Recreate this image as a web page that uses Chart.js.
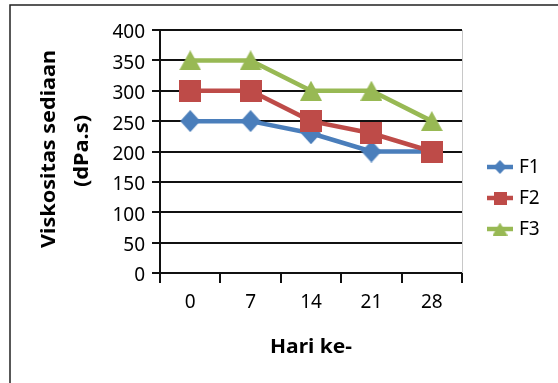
<!DOCTYPE html>
<html>
<head>
<meta charset="utf-8">
<script src="https://cdn.jsdelivr.net/npm/chart.js@4/dist/chart.umd.min.js"></script>
<style>
  html, body { margin: 0; padding: 0; background: #fff; }
  canvas { display: block; }
</style>
</head>
<body>
<canvas id="viscChart" width="558" height="383"></canvas>
<script>
// hari pengamatan dan viskositas tiap formula (dPa.s)
const days = ['0', '7', '14', '21', '28'];
const seriesNames = ['F1', 'F2', 'F3'];
const f1 = [250, 250, 230, 200, 200];
const f2 = [300, 300, 250, 230, 200];
const f3 = [350, 350, 300, 300, 250];
const yMax = 400;
const yStep = 50;

const colors = ['#4A7EBB', '#BE4B48', '#98B954'];
const FONT = '"Noto Sans", "Open Sans", sans-serif';

// marker images, drawn once on small canvases
function makeMarker(shape, w, h, fill) {
    const c = document.createElement('canvas');
    c.width = w;
    c.height = h;
    const g = c.getContext('2d');
    g.fillStyle = fill;
    g.beginPath();
    if (shape === 'diamond') {
        g.moveTo(w / 2, 0);
        g.lineTo(w, h / 2);
        g.lineTo(w / 2, h);
        g.lineTo(0, h / 2);
    } else if (shape === 'triangle') {
        g.moveTo(w / 2, 0);
        g.lineTo(w, h);
        g.lineTo(0, h);
    } else {
        g.rect(0, 0, w, h);
    }
    g.closePath();
    g.fill();
    return c;
}

const markers = [
    makeMarker('diamond', 20, 22, colors[0]),
    makeMarker('square', 22, 22, colors[1]),
    makeMarker('triangle', 22, 20, colors[2])
];
const legendMarkers = [
    makeMarker('diamond', 13, 14, colors[0]),
    makeMarker('square', 13, 13, colors[1]),
    makeMarker('triangle', 15, 13, colors[2])
];

// text stretched along its own direction to a given width
function fitText(ctx, text, cx, cy, width, angle) {
    const w = ctx.measureText(text).width;
    ctx.save();
    ctx.translate(cx, cy);
    ctx.rotate(angle);
    ctx.scale(width / w, 1);
    ctx.fillText(text, 0, 0);
    ctx.restore();
}

const frameAndText = {
    id: 'frameAndText',
    beforeDraw(chart) {
        const ctx = chart.ctx;
        ctx.save();
        // outer frame (top + left)
        ctx.strokeStyle = '#222';
        ctx.lineWidth = 1.5;
        ctx.beginPath();
        ctx.moveTo(10, 383);
        ctx.lineTo(10, 5);
        ctx.lineTo(558, 5);
        ctx.stroke();
        ctx.restore();
    },
    beforeDatasetsDraw(chart) {
        const ctx = chart.ctx;
        const a = chart.chartArea;
        ctx.save();
        ctx.strokeStyle = '#c8c8c8';
        ctx.lineWidth = 1;
        ctx.beginPath();
        ctx.moveTo(a.right + 0.5, a.top);
        ctx.lineTo(a.right + 0.5, a.bottom);
        ctx.stroke();
        ctx.restore();
    },
    afterDraw(chart) {
        const ctx = chart.ctx;
        ctx.save();
        ctx.fillStyle = '#000';
        ctx.textAlign = 'center';
        ctx.textBaseline = 'middle';
        ctx.font = 'bold 19px ' + FONT;

        // y axis title, two lines
        fitText(ctx, 'Viskositas sediaan', 50, 149, 198, -Math.PI / 2);
        fitText(ctx, '(dPa.s)', 83, 151, 72, -Math.PI / 2);

        // x axis title
        fitText(ctx, 'Hari ke-', 311, 348, 82, 0);

        // legend
        const rows = [167, 198, 229];
        ctx.font = '19px ' + FONT;
        ctx.textAlign = 'left';
        chart.data.datasets.forEach((ds, i) => {
            const y = rows[i];
            ctx.strokeStyle = ds.borderColor;
            ctx.lineWidth = 4.5;
            ctx.beginPath();
            ctx.moveTo(487, y);
            ctx.lineTo(513, y);
            ctx.stroke();
            const m = legendMarkers[i];
            ctx.drawImage(m, 500 - m.width / 2, y - m.height / 2);
            ctx.fillStyle = '#000';
            ctx.fillText(ds.label, 519, y + 1);
        });
        ctx.restore();
    }
};

new Chart(document.getElementById('viscChart'), {
    type: 'line',
    data: {
        labels: days,
        datasets: [f1, f2, f3].map((vals, i) => ({
            label: seriesNames[i],
            data: vals,
            order: 3 - i,
            borderColor: colors[i],
            backgroundColor: colors[i],
            borderWidth: 4.5,
            pointStyle: markers[i],
            pointRadius: 11,
            pointHoverRadius: 11,
            tension: 0,
            fill: false
        }))
    },
    options: {
        responsive: false,
        devicePixelRatio: 1,
        animation: false,
        events: [],
        layout: { padding: { left: 0, top: 30, right: 96, bottom: 0 } },
        plugins: {
            legend: { display: false },
            tooltip: { enabled: false }
        },
        scales: {
            x: {
                offset: true,
                grid: {
                    offset: true,
                    drawOnChartArea: false,
                    drawTicks: true,
                    tickLength: 10,
                    color: '#111',
                    lineWidth: 2
                },
                border: { display: true, color: '#111', width: 2 },
                ticks: {
                    color: '#000',
                    padding: 8,
                    font: { family: FONT, size: 19 },
                    maxRotation: 0
                },
                afterFit(scale) { scale.height = 110; }
            },
            y: {
                min: 0,
                max: yMax,
                grid: {
                    color: '#111',
                    lineWidth: 2,
                    drawTicks: true,
                    tickLength: 8
                },
                border: { display: true, color: '#111', width: 2 },
                ticks: {
                    stepSize: yStep,
                    color: '#000',
                    padding: 7,
                    labelOffset: 3,
                    font: { family: FONT, size: 19 }
                },
                afterFit(scale) { scale.width = 160; }
            }
        }
    },
    plugins: [frameAndText]
});
</script>
</body>
</html>
